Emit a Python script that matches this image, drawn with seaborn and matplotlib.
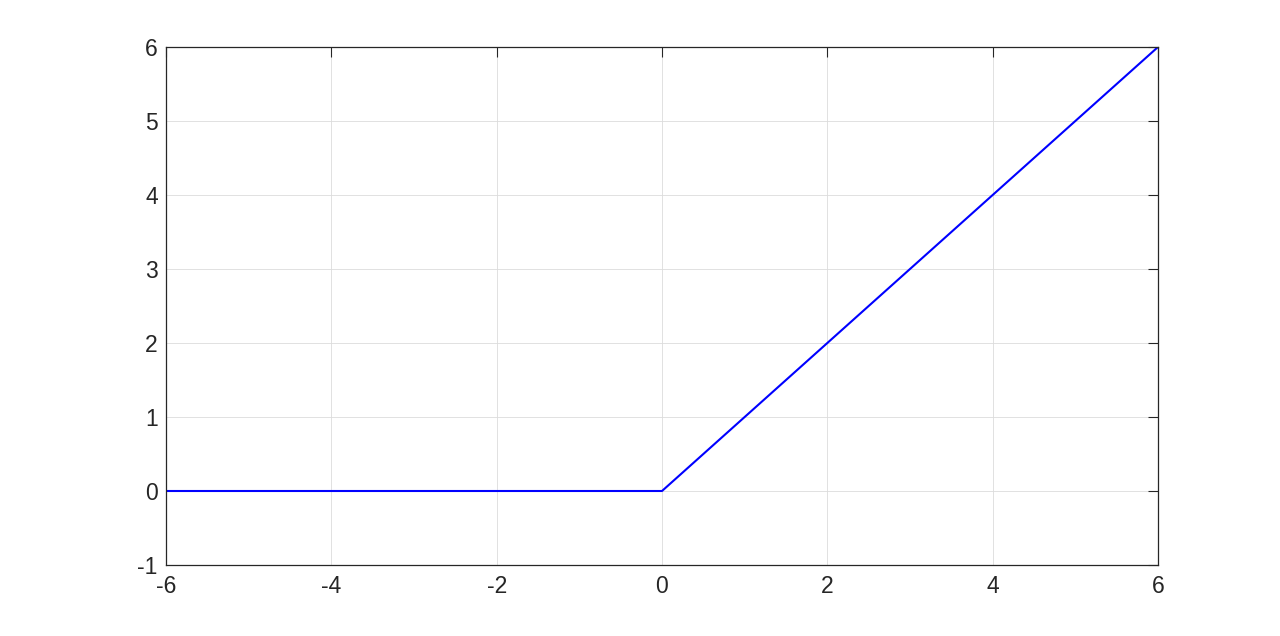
import numpy as np
import pandas as pd
import seaborn as sns
import matplotlib.pyplot as plt

# ReLU curve: breakpoints only
x_values = [-6, 0, 6]
y_values = [0, 0, 6]
x_ticks = [-6, -4, -2, 0, 2, 4, 6]
y_ticks = [-1, 0, 1, 2, 3, 4, 5, 6]

sns.set_style('white')
plt.rcParams['font.family'] = ['Liberation Sans', 'DejaVu Sans']
plt.rcParams['axes.unicode_minus'] = False

df = pd.DataFrame({'x': x_values, 'y': y_values})

fig = plt.figure(figsize=(12.8, 6.36), dpi=100)
ax = fig.add_axes([166 / 1280, 1 - 565 / 636, (1158 - 166) / 1280, (565 - 47) / 636])

sns.lineplot(data=df, x='x', y='y', ax=ax, color='#0000ff', linewidth=1.5)

ax.set_xlim(-6, 6)
ax.set_ylim(-1, 6)
ax.set_xticks(x_ticks)
ax.set_yticks(y_ticks)
ax.set_xlabel('')
ax.set_ylabel('')
ax.grid(True, color='#dcdcdc', linewidth=0.6)
ax.set_axisbelow(True)
ax.tick_params(direction='in', length=7, width=0.8, color='#262626',
               labelsize=16.5, labelcolor='#262626', top=True, right=True)
ax.tick_params(axis='x', pad=7)
ax.tick_params(axis='y', pad=6)
for s in ax.spines.values():
    s.set_color('#262626')
    s.set_linewidth(0.9)

fig.savefig('out.png', dpi=100)
